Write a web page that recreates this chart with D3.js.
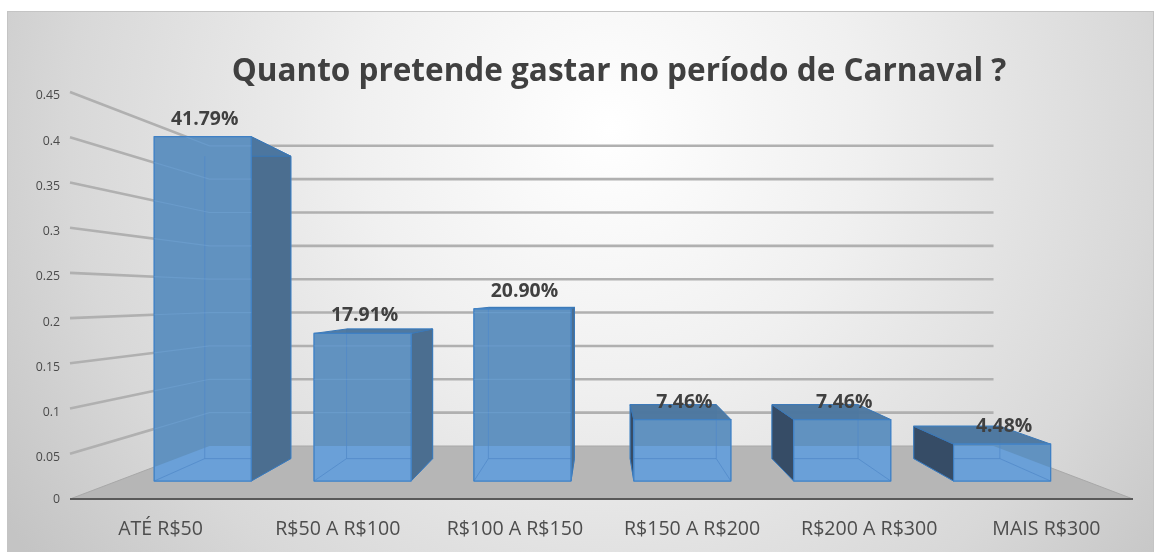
<!DOCTYPE html>
<html><head><meta charset="utf-8">
<script src="https://cdn.jsdelivr.net/npm/d3@7/dist/d3.min.js"></script>
<style>html,body{margin:0;padding:0;background:#fff}svg{display:block;filter:blur(0.45px)}text{font-family:"Open Sans",sans-serif}</style>
</head><body><div id="c"></div>
<script>
const categories = ["ATÉ R$50","R$50 A R$100","R$100 A R$150","R$150 A R$200","R$200 A R$300","MAIS R$300"];
const values = [0.4179,0.1791,0.2090,0.0746,0.0746,0.0448];
const valueLabels = ["41.79%","17.91%","20.90%","7.46%","7.46%","4.48%"];
const ticks = [0,0.05,0.1,0.15,0.2,0.25,0.3,0.35,0.4,0.45];
const title = "Quanto pretende gastar no período de Carnaval ?";

const W=1159,H=552;
const VP={x:601.5,y:297};
const sFront=1, sBarNear=0.911, sBarFar=0.80, sBarFarX=0.808, sBack=0.7376;
const y=d3.scaleLinear().domain([0,0.45]).range([499,92]);
const xNear=d3.scaleBand().domain(categories).range([70,1133]);
const xWorld=d3.scaleBand().domain(categories).range([-525.5,527.5]).paddingInner(0.393).paddingOuter(0.1965);
const P=(wx,v,s,sx)=>[VP.x+wx*(sx||s), VP.y+(y(v)-VP.y)*s];
const poly=pts=>pts.map(p=>p.map(n=>n.toFixed(2)).join(",")).join(" ");

const svg=d3.select("#c").append("svg").attr("width",W).attr("height",H);
const defs=svg.append("defs");
const g=defs.append("radialGradient").attr("id","bg").attr("gradientUnits","userSpaceOnUse")
  .attr("cx",610).attr("cy",130).attr("r",720);
[[0,"#ffffff"],[0.35,"#f0f0f0"],[0.75,"#d8d8d8"],[1,"#c4c4c4"]].forEach(s=>g.append("stop").attr("offset",s[0]).attr("stop-color",s[1]));
svg.append("rect").attr("x",7.5).attr("y",11.5).attr("width",1146).attr("height",H-11).attr("fill","url(#bg)").attr("stroke","#c4c4c4");

const wL=-531.5, wR=531.5;
const floor=[P(wL,0,sFront),P(wR,0,sFront),P(wR,0,sBack),P(wL,0,sBack)];
svg.append("polygon").attr("points",poly(floor)).attr("fill","#b6b6b6").attr("stroke","#a8a8a8").attr("stroke-width",1);
defs.append("clipPath").attr("id","floorClip").append("polygon").attr("points",poly(floor));

const grid=svg.append("g").attr("fill","none").attr("stroke","#b0b0b0").attr("stroke-width",2.6);
const wall=v=>poly([P(wL,v,sFront),P(wL,v,sBack),P(wR,v,sBack)]);
ticks.filter(t=>t>0).forEach(t=>grid.append("polyline").attr("points",wall(t)));

svg.append("line").attr("x1",70).attr("x2",1133).attr("y1",y(0)).attr("y2",y(0)).attr("stroke","#595959").attr("stroke-width",2);

const bars=svg.append("g");
const silhouette=defs.append("clipPath").attr("id","barsClip");
categories.forEach((c,i)=>{
  const v=values[i], a=xWorld(c), b=a+xWorld.bandwidth();
  const f=[P(a,0,sBarNear),P(b,0,sBarNear),P(b,v,sBarNear),P(a,v,sBarNear)];
  const k=[P(a,0,sBarFar,sBarFarX),P(b,0,sBarFar,sBarFarX),P(b,v,sBarFar,sBarFarX),P(a,v,sBarFar,sBarFarX)];
  const face=(pts,fill,op,st)=>bars.append("polygon").attr("points",poly(pts)).attr("fill",fill).attr("fill-opacity",op)
    .attr("stroke",st||"#3a78b8").attr("stroke-width",1).attr("stroke-linejoin","round");
  face(k,"#5f93c6",0.55,"#5b9bd5");
  face([f[0],f[1],k[1],k[0]],"#6aa2da",0.9,"#5f9ad8");
  if(i<3) face([f[1],k[1],k[2],f[2]],"#4b6e90",1);
  else face([f[0],k[0],k[3],f[3]],"#364c66",1);
  face([f[3],f[2],k[2],k[3]],"#4c779f",0.97);
  face(f,"#6192c0",1,"#5a92cc");
  bars.append("polygon").attr("points",poly(f)).attr("fill","#6aa0d8").attr("clip-path","url(#floorClip)");
  // back edges of the bar, seen through the front face only
  const cid="front"+i;
  defs.append("clipPath").attr("id",cid).append("polygon").attr("points",poly(f));
  const inner=bars.append("g").attr("clip-path",`url(#${cid})`).attr("fill","none").attr("stroke","#5088c8").attr("stroke-width",1).attr("stroke-opacity",0.75);
  inner.append("polyline").attr("points",poly([k[3],k[0],k[1],k[2]]));
  [0,1].forEach(n=>inner.append("polyline").attr("points",poly([f[n],k[n]])));
  bars.append("polygon").attr("points",poly(f)).attr("fill","none").attr("stroke","#3f80c4").attr("stroke-width",1.2);
  silhouette.append("polygon").attr("points",poly(f));
});
const through=svg.append("g").attr("clip-path","url(#barsClip)").attr("fill","none").attr("stroke","#7fb0e0").attr("stroke-width",1.2).attr("stroke-opacity",0.3);
ticks.filter(t=>t>0).forEach(t=>through.append("polyline").attr("points",wall(t)));

const axY=d3.axisLeft(y).tickValues(ticks).tickFormat(d=>String(d)).tickSize(0).tickPadding(10);
const gy=svg.append("g").attr("transform","translate(70,0)").call(axY);
gy.select(".domain").remove();
gy.selectAll("text").attr("font-size",12.3).attr("fill","#4a4a4a").style("font-family",'"Open Sans",sans-serif').attr("dy","0.32em")
  .attr("transform",d=>`translate(0,${d===0?0:3})`);

const axX=d3.axisBottom(xNear).tickSize(0).tickPadding(0);
const gx=svg.append("g").attr("transform","translate(0,518)").call(axX);
gx.select(".domain").remove();
gx.selectAll("text").attr("font-size",19.6).attr("fill","#4d4d4d").style("font-family",'"Open Sans",sans-serif')
  .attr("dy","0.32em").attr("y",11).attr("x",2);

svg.append("g").selectAll("text").data(categories).join("text")
  .attr("x",c=>P(xWorld(c)+xWorld.bandwidth()/2,0,sBarNear)[0]+2)
  .attr("y",(c,i)=>P(0,values[i],sBarNear)[1]-12)
  .attr("text-anchor","middle").attr("font-size",19.4).attr("font-weight",700).attr("fill","#404040")
  .text((c,i)=>valueLabels[i]);

svg.append("text").attr("x",619).attr("y",81).attr("text-anchor","middle").attr("font-size",31.5).attr("font-weight",700).attr("fill","#404040").text(title);
</script></body></html>
